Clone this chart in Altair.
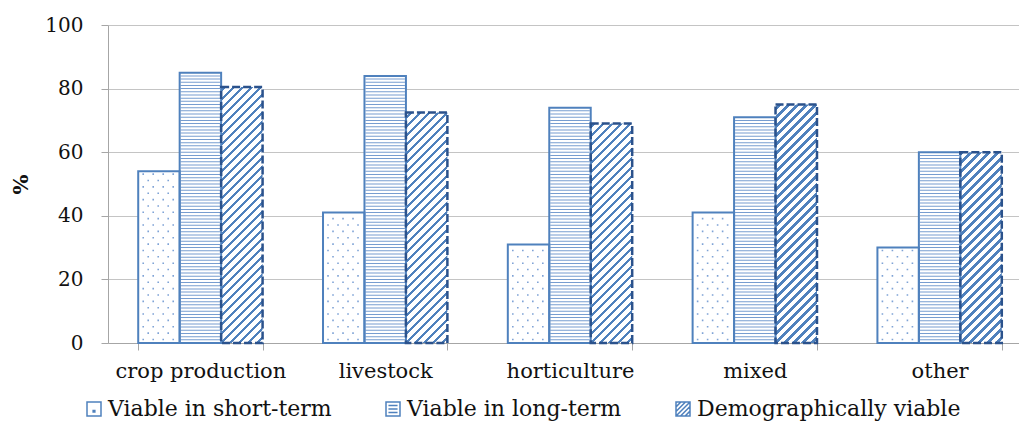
import altair as alt
import pandas as pd

# ---------------- data ----------------
categories = ["crop production", "livestock", "horticulture", "mixed", "other"]
series = ["Viable in short-term", "Viable in long-term", "Demographically viable"]
short_term = [54, 41, 31, 41, 30]
long_term = [85, 84, 74, 71, 60]
demographic = [80.5, 72.5, 69, 75, 60]
y_ticks = [0, 20, 40, 60, 80, 100]

rows = []
for i, c in enumerate(categories):
    for s, vals in zip(series, [short_term, long_term, demographic]):
        rows.append({"category": c, "series": s, "value": vals[i]})
df = pd.DataFrame(rows)

# ---------------- layout / style ----------------
W, H = 911, 318
RANGE_W = 924
PAD_INNER = 0.327
STEP = RANGE_W / len(categories)
BAR_W = STEP * (1 - PAD_INNER) / len(series)

FONT = "DejaVu Serif"
BLUE = "#4f81bd"
DARK = "#2b528c"
DOT = "#7fa3d6"
AXIS_GRAY = "#a6a6a6"
GRID_GRAY = "#c4c4c4"

x_enc = alt.X(
    "category:N", sort=categories,
    scale=alt.Scale(domain=categories, range=[0, RANGE_W],
                    paddingInner=PAD_INNER, paddingOuter=PAD_INNER / 2),
    axis=alt.Axis(title=None, tickBand="extent", tickSize=7, tickColor=AXIS_GRAY,
                  domainColor=AXIS_GRAY, labelFont=FONT, labelFontSize=21,
                  labelColor="#111", labelPadding=27, labelBaseline="alphabetic",
                  labelAngle=0, grid=False),
)
xo_enc = alt.XOffset("series:N", sort=series,
                     scale=alt.Scale(domain=series, paddingInner=0, paddingOuter=0))
y_enc = alt.Y(
    "value:Q", scale=alt.Scale(domain=[0, 100], nice=False),
    axis=alt.Axis(values=y_ticks, title="%", titleFont=FONT, titleFontSize=21,
                  titleFontWeight="bold", titleColor="#111", titleX=-87, titleY=H / 2,
                  titleAngle=-90, titleAlign="center", titleBaseline="middle",
                  labelFont=FONT, labelFontSize=20, labelColor="#111", labelPadding=18,
                  tickSize=7, tickColor=AXIS_GRAY, domainColor=AXIS_GRAY,
                  gridColor=GRID_GRAY, grid=True),
)


def enc(ch):
    return ch.encode(x=x_enc, xOffset=xo_enc, y=y_enc)


base = alt.Chart(df)

# white backing for all bars
white = enc(base.mark_bar(fill="white", strokeWidth=0))

# dotted texture (short-term)
s_half = BAR_W / 2
d = 1.6 / s_half


def dot_row(offsets):
    parts = []
    for dx in offsets:
        u = (dx - BAR_W / 2) / s_half
        parts.append(f"M{u - d / 2:.4f},{-d / 2:.4f}h{d:.4f}v{d:.4f}h{-d:.4f}Z")
    return " ".join(parts)


row_a = dot_row([5, 15, 25, 35])
row_b = dot_row([10, 20, 30])

dots_src = (
    base.transform_filter(alt.datum.series == series[0])
    .transform_calculate(level="sequence(1.1, datum.value - 0.5, 2)")
    .transform_flatten(["level"])
    .transform_calculate(value="datum.level",
                         row="floor((datum.level - 1.1) / 2 + 0.5) % 2")
)
dots_a = enc(dots_src.transform_filter("datum.row == 0").mark_point(
    shape=row_a, size=BAR_W ** 2, filled=True, color=DOT, opacity=1, strokeWidth=0))
dots_b = enc(dots_src.transform_filter("datum.row == 1").mark_point(
    shape=row_b, size=BAR_W ** 2, filled=True, color=DOT, opacity=1, strokeWidth=0))

# horizontal line texture (long-term)
hlines = enc(
    base.transform_filter(alt.datum.series == series[1])
    .transform_calculate(level="sequence(1, datum.value, 1)")
    .transform_flatten(["level"])
    .transform_calculate(value="datum.level")
    .mark_tick(thickness=1, size=BAR_W - 2, color="#5f8cc8", opacity=0.85)
)

# diagonal hatch texture (demographically viable), one gradient per bar
PERIOD = 9.0
THICK = 3.4


def hatch_gradient(v):
    w = BAR_W
    h = v * H / 100.0
    total = w + h
    a = w * total / (w * w + h * h)
    b = h * total / (w * w + h * h)
    c0 = h % PERIOD
    stops = []
    c = c0 - PERIOD
    while c - THICK / 2 < total:
        lo = max(0.0, (c - THICK / 2) / total)
        hi = min(1.0, (c + THICK / 2) / total)
        if hi > 0 and lo < 1:
            stops += [
                {"offset": lo, "color": "white"},
                {"offset": lo, "color": BLUE},
                {"offset": hi, "color": BLUE},
                {"offset": hi, "color": "white"},
            ]
        c += PERIOD
    return {"gradient": "linear", "x1": 0, "y1": 0, "x2": a, "y2": b, "stops": stops}


hatch_layers = []
for c, v in zip(categories, demographic):
    hatch_layers.append(enc(
        base.transform_filter((alt.datum.series == series[2]) & (alt.datum.category == c))
        .mark_bar(fill=hatch_gradient(v), strokeWidth=0)
    ))

# outlines
solid_outline = enc(
    base.transform_filter(alt.datum.series != series[2])
    .mark_bar(fillOpacity=0, stroke=BLUE, strokeWidth=2)
)
dashed_outline = enc(
    base.transform_filter(alt.datum.series == series[2])
    .mark_bar(fillOpacity=0, stroke=DARK, strokeWidth=2.5, strokeDash=[8, 3])
)

# legend carrier
icon_short = "M-1,-1H1V1H-1Z M-0.12,0.2h0.24v0.24h-0.24Z"
icon_long = "M-1,-1H1V1H-1Z M-0.65,-0.5H0.65 M-0.65,0H0.65 M-0.65,0.5H0.65"
icon_demo = ("M-1,-1H1V1H-1Z M-1,-0.3L-0.3,-1 M-1,0.35L0.35,-1 M-1,1L1,-1 "
             "M-0.35,1L1,-0.35 M0.3,1L1,0.3")
legend_layer = enc(base.mark_point(opacity=0, filled=False, color=BLUE)).encode(
    shape=alt.Shape(
        "series:N", sort=series,
        scale=alt.Scale(domain=series, range=[icon_short, icon_long, icon_demo]),
        legend=alt.Legend(title=None, orient="none", legendX=-25, legendY=373,
                          direction="horizontal", symbolSize=196, symbolOpacity=1,
                          symbolStrokeColor=BLUE, symbolFillColor="transparent",
                          symbolStrokeWidth=1.5, labelFont=FONT, labelFontSize=22,
                          labelColor="#111", labelOffset=3, columnPadding=50,
                          padding=0, labelLimit=400),
    )
)

chart = (
    alt.layer(white, dots_a, dots_b, hlines, *hatch_layers, solid_outline,
              dashed_outline, legend_layer)
    .properties(width=W, height=H,
                autosize=alt.AutoSizeParams(type="none"),
                padding={"left": 108, "top": 25, "right": 0, "bottom": 80},
                background="white")
    .configure_view(strokeWidth=0)
)

chart.save("out.html", embed_options={"renderer": "svg", "actions": False})
